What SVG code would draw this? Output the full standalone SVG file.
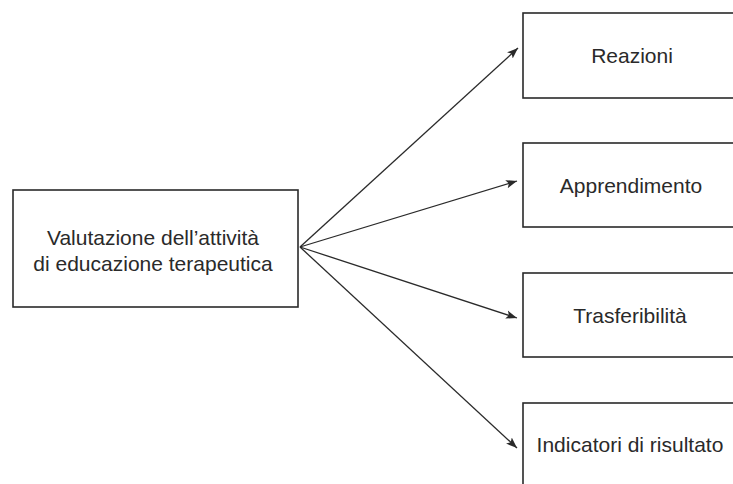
<svg xmlns="http://www.w3.org/2000/svg" width="733" height="484" viewBox="0 0 733 484">
<defs>
<marker id="ah" markerWidth="12" markerHeight="10" refX="11" refY="5" orient="auto" markerUnits="userSpaceOnUse">
<path d="M0,0.8 L11,5 L0,9.2 L2.5,5 Z" fill="#2a2a2a"/>
</marker>
<style>
.box{fill:#fff;stroke:#2a2a2a;stroke-width:1.6}
.lbl{font-family:"Liberation Sans","DejaVu Sans",sans-serif;font-size:21px;fill:#2a2a2a;text-anchor:middle}
.conn{stroke:#2a2a2a;stroke-width:1.3;fill:none;marker-end:url(#ah)}
</style>
</defs>
<rect width="733" height="484" fill="#fff"/>
<g id="connectors">
<line class="conn" x1="300" y1="247" x2="518" y2="48"/>
<line class="conn" x1="300" y1="247" x2="517" y2="181"/>
<line class="conn" x1="300" y1="247" x2="517" y2="318"/>
<line class="conn" x1="300" y1="247" x2="517" y2="448"/>
</g>
<g id="valutazione">
<rect class="box" x="13" y="190" width="285" height="117"/>
<text class="lbl" x="153" y="245">Valutazione dell’attività</text>
<text class="lbl" x="153" y="271">di educazione terapeutica</text>
</g>
<g id="reazioni">
<rect class="box" x="523" y="13" width="220" height="85"/>
<text class="lbl" x="632" y="63">Reazioni</text>
</g>
<g id="apprendimento">
<rect class="box" x="523" y="143" width="220" height="84"/>
<text class="lbl" x="631" y="193">Apprendimento</text>
</g>
<g id="trasferibilita">
<rect class="box" x="523" y="273" width="220" height="84"/>
<text class="lbl" x="630" y="323">Trasferibilità</text>
</g>
<g id="indicatori">
<rect class="box" x="523" y="403" width="220" height="100"/>
<text class="lbl" x="630" y="452">Indicatori di risultato</text>
</g>
</svg>
